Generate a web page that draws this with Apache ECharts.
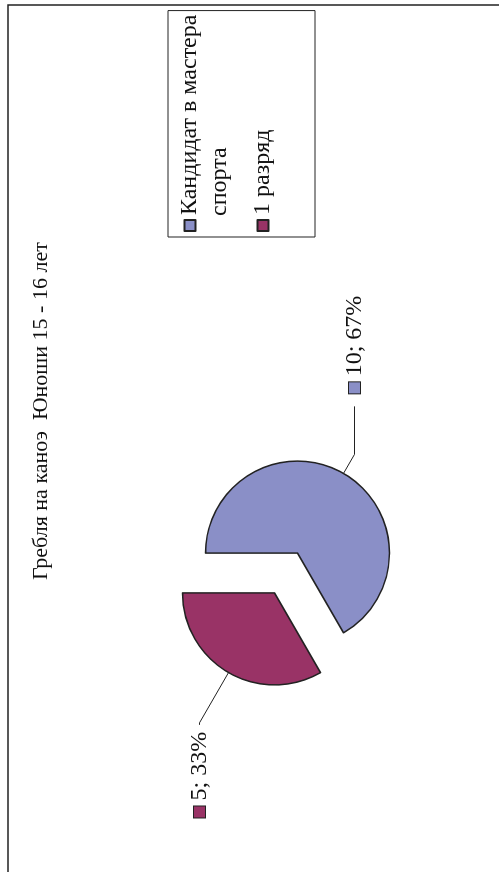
<!DOCTYPE html>
<html>
<head>
<meta charset="utf-8">
<script src="https://cdn.jsdelivr.net/npm/echarts@6/dist/echarts.min.js"></script>
<style>
  html, body { margin: 0; padding: 0; background: #fff; overflow: hidden; }
  /* the chart is drawn upright and then turned a quarter turn to the left */
  #chart { position: absolute; left: 0; top: 0; width: 872px; height: 499px;
    transform-origin: 0 0; transform: translate(0, 872px) rotate(-90deg); }
</style>
</head>
<body>
<div id="chart"></div>
<script>
const titleText = "Гребля на каноэ  Юноши 15 - 16 лет"
const categories = ["Кандидат в мастера спорта", "1 разряд"]
const counts = [10, 5]
const colors = ["#8a8fc7", "#993366"]
const legendLines = ["Кандидат в мастера", "спорта"]

const font = "Liberation Serif"
const chart = echarts.init(document.getElementById("chart"))

const sqKeys = ["sq0", "sq1"]
const rich = {}
colors.forEach((c, i) => {
  rich[sqKeys[i]] = { width: 11, height: 11, backgroundColor: c, borderColor: "#222", borderWidth: 1 }
})
rich.t = { fontFamily: font, fontSize: 24, color: "#111" }

// leader line lengths and gap to the label, per slice
const lineLens = [[22, 48], [58, 2]]
const labelGaps = [13, 7]

const option = {
  animation: false,
  backgroundColor: "#fff",
  title: {
    text: titleText,
    left: 292,
    top: 30,
    padding: 0,
    textStyle: { fontFamily: font, fontSize: 22, fontWeight: "normal", color: "#111" }
  },
  legend: {
    orient: "vertical",
    left: 635,
    top: 168,
    padding: [7, 4, 37, 5],
    borderColor: "#222",
    borderWidth: 1,
    itemWidth: 11,
    itemHeight: 11,
    itemGap: 43,
    icon: "rect",
    data: categories,
    formatter: name => name === categories[0] ? legendLines[0] : name,
    textStyle: { fontFamily: font, fontSize: 24, color: "#111", lineHeight: 30 }
  },
  graphic: [
    {
      type: "rect",
      shape: { x: -10, y: 8, width: 877, height: 520 },
      style: { fill: "none", stroke: "#222", lineWidth: 1.5 },
      silent: true
    },
    {
      type: "text",
      left: 656,
      top: 208,
      style: { text: legendLines[1], fontFamily: font, fontSize: 24, fill: "#111" },
      silent: true
    }
  ],
  series: [{
    type: "pie",
    center: [299, 286],
    radius: 92,
    startAngle: 90,
    clockwise: true,
    selectedMode: "multiple",
    selectedOffset: 23,
    percentPrecision: 0,
    avoidLabelOverlap: false,
    itemStyle: { borderColor: "#222", borderWidth: 1.5 },
    select: { itemStyle: { borderColor: "#222", borderWidth: 1.5 } },
    emphasis: { disabled: true },
    label: {
      show: true,
      position: "outside",
      formatter: p => "{" + sqKeys[p.dataIndex] + "|}{t| " + p.value + "; " + p.percent + "%}",
      rich: rich
    },
    labelLine: { show: true, lineStyle: { color: "#222", width: 1 } },
    data: categories.map((name, i) => ({
      name: name,
      value: counts[i],
      selected: true,
      itemStyle: { color: colors[i] },
      label: { distanceToLabelLine: labelGaps[i] },
      labelLine: { length: lineLens[i][0], length2: lineLens[i][1] }
    }))
  }]
}

chart.setOption(option)
</script>
</body>
</html>
